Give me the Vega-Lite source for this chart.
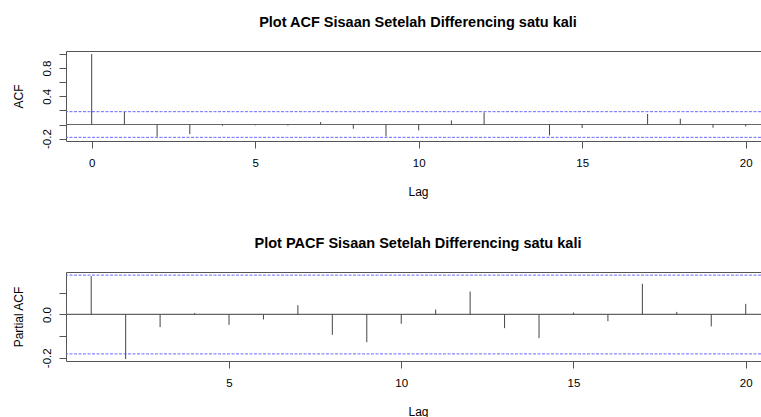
{
  "$schema": "https://vega.github.io/schema/vega-lite/v6.json",
  "autosize": {"type": "none"},
  "padding": {"left": 66, "top": 51, "right": 695, "bottom": 366},
  "background": "white",
  "config": {
    "view": {"stroke": null},
    "font": "Liberation Sans",
    "axis": {"grid": false, "domainColor": "#555", "tickColor": "#555", "tickSize": 7, "labelColor": "#000", "titleColor": "#000", "labelFontSize": 11.5, "titleFontSize": 12, "titleFontWeight": "normal", "labelFont": "Liberation Sans", "titleFont": "Liberation Sans", "labelOverlap": false},
    "title": {"fontSize": 14.5, "font": "Liberation Sans", "fontWeight": "bold", "color": "#000"}
  },
  "datasets": {
    "acf": [
      {"lag": 0, "value": 1}, {"lag": 1, "value": 0.177}, {"lag": 2, "value": -0.173}, {"lag": 3, "value": -0.135},
      {"lag": 4, "value": -0.017}, {"lag": 5, "value": -0.012}, {"lag": 6, "value": -0.015}, {"lag": 7, "value": 0.035},
      {"lag": 8, "value": -0.06}, {"lag": 9, "value": -0.169}, {"lag": 10, "value": -0.084}, {"lag": 11, "value": 0.058},
      {"lag": 12, "value": 0.172}, {"lag": 13, "value": -0.006}, {"lag": 14, "value": -0.155}, {"lag": 15, "value": -0.05},
      {"lag": 16, "value": 0.004}, {"lag": 17, "value": 0.149}, {"lag": 18, "value": 0.082}, {"lag": 19, "value": -0.045},
      {"lag": 20, "value": -0.027}
    ],
    "pacf": [
      {"lag": 1, "value": 0.177}, {"lag": 2, "value": -0.206}, {"lag": 3, "value": -0.058}, {"lag": 4, "value": 0.006},
      {"lag": 5, "value": -0.048}, {"lag": 6, "value": -0.023}, {"lag": 7, "value": 0.043}, {"lag": 8, "value": -0.094},
      {"lag": 9, "value": -0.128}, {"lag": 10, "value": -0.043}, {"lag": 11, "value": 0.023}, {"lag": 12, "value": 0.106},
      {"lag": 13, "value": -0.063}, {"lag": 14, "value": -0.109}, {"lag": 15, "value": 0.009}, {"lag": 16, "value": -0.031},
      {"lag": 17, "value": 0.142}, {"lag": 18, "value": 0.012}, {"lag": 19, "value": -0.055}, {"lag": 20, "value": 0.049}
    ],
    "ci": [{"ci": 0.182}, {"ci": -0.182}]
  },
  "spacing": 131,
  "bounds": "flush",
  "vconcat": [
    {
      "width": 695,
      "height": 90,
      "title": {"text": "Plot ACF Sisaan Setelah Differencing satu kali", "offset": 9.5, "baseline": "alphabetic", "frame": "group", "dx": 4.5},
      "layer": [
        {
          "data": {"name": "ci"},
          "mark": {"type": "rule", "color": "#6a6aff", "strokeDash": [3, 1.5], "strokeWidth": 1},
          "encoding": {
            "y": {"field": "ci", "type": "quantitative", "scale": {"domain": [-0.234, 1.0426], "nice": false, "zero": false},
              "axis": {"title": "ACF", "values": [-0.2, 0.4, 0.8], "format": ".1f",
                "labelExpr": "replace(datum.label, '−', '-')",
                "labelAngle": -90, "labelAlign": "center", "labelBaseline": "alphabetic", "labelPadding": 8.5, "labelOverlap": false,
                "titleX": -44, "titleBaseline": "alphabetic", "titleAngle": 270}}
          }
        },
        {
          "data": {"name": "acf"},
          "mark": {"type": "rule", "color": "#666", "strokeWidth": 1},
          "encoding": {"y": {"datum": 0, "type": "quantitative", "axis": null}}
        },
        {
          "data": {"name": "acf"},
          "mark": {"type": "rule", "color": "#444", "strokeWidth": 1},
          "encoding": {
            "x": {"field": "lag", "type": "quantitative", "scale": {"domain": [-0.786, 20.468], "nice": false, "zero": false},
              "axis": {"title": "Lag", "values": [0, 5, 10, 15, 20], "format": "d", "labelPadding": 18, "labelBaseline": "alphabetic",
                "labelFlush": false, "labelOverlap": false, "titleX": 352, "titleY": 54, "titleBaseline": "alphabetic"}},
            "y": {"field": "value", "type": "quantitative", "axis": null},
            "y2": {"datum": 0}
          }
        },
        {
          "data": {"name": "acf"},
          "mark": {"type": "rule", "strokeOpacity": 0},
          "encoding": {
            "x": {"field": "lag", "type": "quantitative", "axis": {"orient": "top", "labels": false, "ticks": false, "domain": true, "title": null, "minExtent": 0, "maxExtent": 0}},
            "y": {"field": "value", "type": "quantitative", "axis": {"orient": "right", "offset": -695, "tickSize": -7, "values": [0, 0.2, 0.6, 1], "labels": false, "domain": false, "title": null, "minExtent": 0, "maxExtent": 0}}
          }
        }
      ],
      "resolve": {"axis": {"x": "independent", "y": "independent"}}
    },
    {
      "width": 695,
      "height": 89,
      "title": {"text": "Plot PACF Sisaan Setelah Differencing satu kali", "offset": 9.5, "baseline": "alphabetic", "frame": "group", "dx": 4.5},
      "layer": [
        {
          "data": {"name": "ci"},
          "mark": {"type": "rule", "color": "#6a6aff", "strokeDash": [3, 1.5], "strokeWidth": 1},
          "encoding": {
            "y": {"field": "ci", "type": "quantitative", "scale": {"domain": [-0.2148, 0.1963], "nice": false, "zero": false},
              "axis": {"title": "Partial ACF", "values": [-0.2, 0], "format": ".1f",
                "labelExpr": "replace(datum.label, '−', '-')",
                "labelAngle": -90, "labelAlign": "center", "labelBaseline": "alphabetic", "labelPadding": 8.5, "labelOverlap": false,
                "titleX": -44, "titleBaseline": "alphabetic", "titleAngle": 270}}
          }
        },
        {
          "data": {"name": "pacf"},
          "mark": {"type": "rule", "color": "#666", "strokeWidth": 1},
          "encoding": {"y": {"datum": 0, "type": "quantitative", "axis": null}}
        },
        {
          "data": {"name": "pacf"},
          "mark": {"type": "rule", "color": "#444", "strokeWidth": 1},
          "encoding": {
            "x": {"field": "lag", "type": "quantitative", "scale": {"domain": [0.268, 20.444], "nice": false, "zero": false},
              "axis": {"title": "Lag", "values": [5, 10, 15, 20], "format": "d", "labelPadding": 18, "labelBaseline": "alphabetic",
                "labelFlush": false, "labelOverlap": false, "titleX": 352, "titleY": 54, "titleBaseline": "alphabetic"}},
            "y": {"field": "value", "type": "quantitative", "axis": null},
            "y2": {"datum": 0}
          }
        },
        {
          "data": {"name": "pacf"},
          "mark": {"type": "rule", "strokeOpacity": 0},
          "encoding": {
            "x": {"field": "lag", "type": "quantitative", "axis": {"orient": "top", "labels": false, "ticks": false, "domain": true, "title": null, "minExtent": 0, "maxExtent": 0}},
            "y": {"field": "value", "type": "quantitative", "axis": {"orient": "right", "offset": -695, "tickSize": -7, "values": [-0.1, 0.1], "labels": false, "domain": false, "title": null, "minExtent": 0, "maxExtent": 0}}
          }
        }
      ],
      "resolve": {"axis": {"x": "independent", "y": "independent"}}
    }
  ]
}
